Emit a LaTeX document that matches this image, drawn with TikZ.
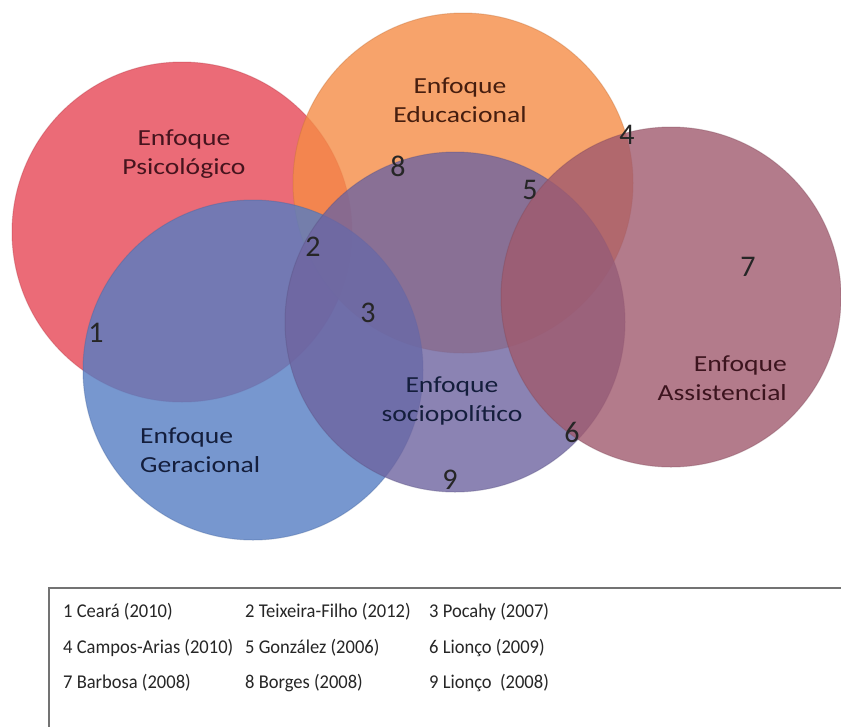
\documentclass[tikz,border=0pt]{standalone}
\usepackage{fontspec}
\setmainfont{Carlito}
\newfontfamily\labfont[FakeStretch=1.2]{Carlito}
\newfontfamily\legfont[FakeStretch=0.95]{Carlito}
\begin{document}
\begin{tikzpicture}[x=1pt,y=-1pt,
  venn/.style={circle,minimum size=340pt,inner sep=0pt,fill opacity=0.8,draw=#1!80!black,draw opacity=0.35,line width=1pt},
  lab/.style={font=\labfont\fontsize{23}{29}\selectfont,align=center,inner sep=0pt},
  num/.style={font=\fontsize{30}{30}\selectfont,text=black!85,inner sep=0pt},
  leg/.style={font=\legfont\fontsize{19.5}{22}\selectfont,anchor=west,inner sep=0pt,text=black!85}]
\definecolor{cred}{RGB}{230,70,85}
\definecolor{corange}{RGB}{245,140,70}
\definecolor{cblue}{RGB}{85,125,195}
\definecolor{csocio}{RGB}{110,100,160}
\definecolor{cmauve}{RGB}{160,90,110}
\useasboundingbox (0,0) rectangle (841,726);
\fill[white] (0,0) rectangle (841,726);
% circles
\node[venn=cred,fill=cred] (psi) at (182,232) {};
\node[venn=corange,fill=corange] (edu) at (463,183) {};
\node[venn=cblue,fill=cblue] (ger) at (253,370) {};
\node[venn=csocio,fill=csocio] (soc) at (455,322) {};
\node[venn=cmauve,fill=cmauve] (ass) at (671,297) {};
% labels
\node[lab,text={rgb,255:red,70;green,20;blue,30}] (lpsi) at (184,154) {Enfoque\\Psicológico};
\node[lab,text={rgb,255:red,70;green,30;blue,15}] (ledu) at (460,100) {Enfoque\\Educacional};
\node[lab,align=left,anchor=west,text={rgb,255:red,20;green,30;blue,60}] (lger) at (140,450) {Enfoque\\Geracional};
\node[lab,text={rgb,255:red,20;green,30;blue,60}] (lsoc) at (452,401) {Enfoque\\sociopolítico};
\node[lab,align=right,anchor=east,text={rgb,255:red,60;green,20;blue,30}] (lass) at (787,378) {Enfoque\\Assistencial};
% numbers
\node[num] (n1) at (96,333) {1};
\node[num] (n2) at (313,247) {2};
\node[num] (n3) at (368,313) {3};
\node[num] (n4) at (627,135) {4};
\node[num] (n5) at (530,190) {5};
\node[num] (n6) at (572,432) {6};
\node[num] (n7) at (748,267) {7};
\node[num] (n8) at (398,166) {8};
\node[num] (n9) at (450,480) {9};
% legend box
\draw[line width=2pt,black!55] (49,760) -- (49,588) -- (860,588);
\node[leg] (l1) at (63,612) {1 Ceará (2010)};
\node[leg] (l2) at (245,612) {2 Teixeira-Filho (2012)};
\node[leg] (l3) at (429,612) {3 Pocahy (2007)};
\node[leg] (l4) at (63,648) {4 Campos-Arias (2010)};
\node[leg] (l5) at (245,648) {5 González (2006)};
\node[leg] (l6) at (429,648) {6 Lionço (2009)};
\node[leg] (l7) at (63,683) {7 Barbosa (2008)};
\node[leg] (l8) at (245,683) {8 Borges (2008)};
\node[leg] (l9) at (429,683) {9 Lionço~~(2008)};
\end{tikzpicture}
\end{document}
